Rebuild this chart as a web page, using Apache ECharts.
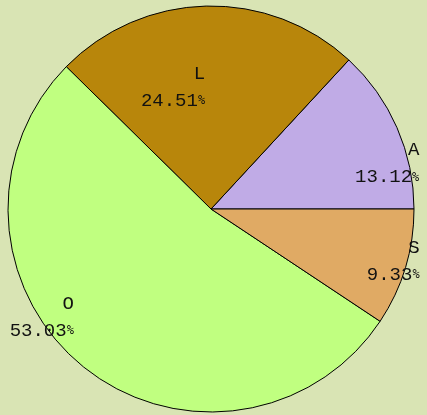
<!DOCTYPE html>
<html>
<head>
<meta charset="utf-8">
<script src="https://cdn.jsdelivr.net/npm/echarts@6/dist/echarts.min.js"></script>
<style>
  html, body { margin: 0; padding: 0; background: #d9e4b4; }
  #main { width: 427px; height: 415px; }
</style>
</head>
<body>
<div id="main"></div>
<script>
// slices, counter-clockwise from 3 o'clock
var sliceNames = ['A', 'L', 'O', 'S']
var sliceValues = [13.12, 24.51, 53.03, 9.33]
var sliceColors = ['#c0abe6', '#b8860b', '#c0ff80', '#e0aa64']

var cx = 211, cy = 209, rad = 203
// where each label sits: fraction of radius and angle shift (deg) from the slice middle
var labelSpots = [[1.05, -11.4], [0.60, 1.4], [0.86, -12.7], [1.06, 2.6]]

var total = sliceValues.reduce(function (a, b) { return a + b }, 0)
var midAngles = []
var acc = 0
for (var i = 0; i < sliceValues.length; i++) {
  var span = sliceValues[i] / total * 360
  midAngles.push(acc + span / 2)
  acc += span
}

var myChart = echarts.init(document.getElementById('main'))
var option = {
  backgroundColor: '#d9e4b4',
  animation: false,
  series: [
    {
      type: 'pie',
      center: [cx, cy],
      radius: rad,
      startAngle: 0,
      clockwise: false,
      avoidLabelOverlap: false,
      emphasis: { disabled: true },
      itemStyle: {
        borderColor: '#000',
        borderWidth: 1
      },
      label: {
        show: true,
        position: 'inside',
        formatter: function (p) {
          return '{n|' + p.name + '}\n{v|' + p.value.toFixed(2) + '}{p|%}'
        },
        rich: {
          n: { fontFamily: 'Liberation Mono', fontSize: 19, color: '#111', align: 'right', lineHeight: 27 },
          v: { fontFamily: 'Liberation Mono', fontSize: 19, color: '#111', align: 'right', lineHeight: 27 },
          p: { fontFamily: 'DejaVu Sans Mono', fontSize: 12, color: '#111', align: 'right', lineHeight: 27 }
        }
      },
      labelLine: { show: false },
      labelLayout: function (params) {
        var idx = params.dataIndex
        var spot = labelSpots[idx]
        var a = (midAngles[idx] + spot[1]) * Math.PI / 180
        return {
          x: cx + spot[0] * rad * Math.cos(a),
          y: cy - spot[0] * rad * Math.sin(a),
          align: 'right',
          verticalAlign: 'middle'
        }
      },
      data: sliceNames.map(function (n, k) {
        return { name: n, value: sliceValues[k], itemStyle: { color: sliceColors[k] } }
      })
    }
  ]
}
myChart.setOption(option)
</script>
</body>
</html>
